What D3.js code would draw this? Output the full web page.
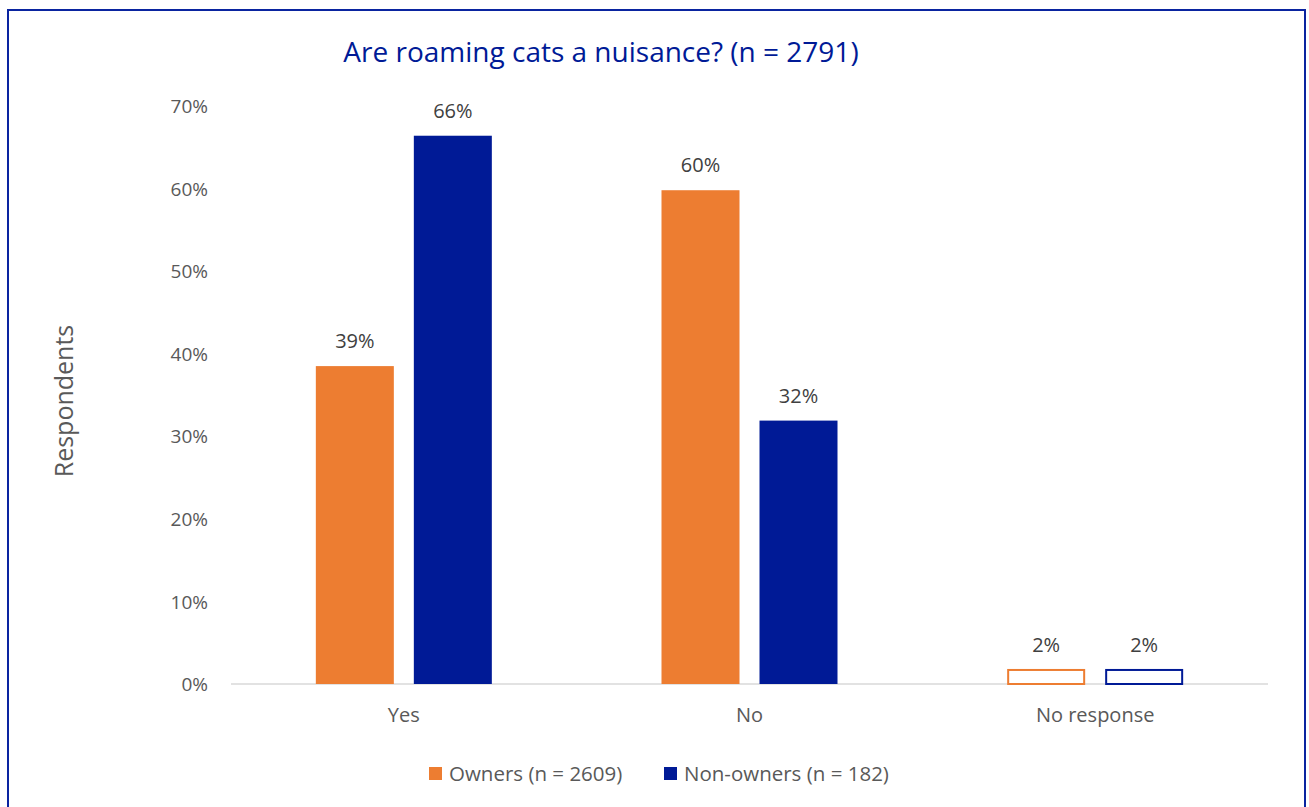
<!DOCTYPE html>
<html><head><meta charset="utf-8">
<script src="https://cdn.jsdelivr.net/npm/d3@7"></script>
<style>body{margin:0;background:#fff;} text{font-family:"Open Sans",sans-serif;}</style>
</head><body><svg id="c" width="1309" height="807"></svg>
<script>
const categories = ["Yes", "No", "No response"];
const seriesNames = ["Owners (n = 2609)", "Non-owners (n = 182)"];
const owners = [38.5, 59.8, 1.7];
const nonOwners = [66.4, 31.9, 1.7];
const ownersLabels = ["39%", "60%", "2%"];
const nonOwnersLabels = ["66%", "32%", "2%"];
const yTicks = [0, 10, 20, 30, 40, 50, 60, 70];
const colors = ["#ED7D31", "#001A96"];

const svg = d3.select("#c");
svg.append("rect").attr("x", 8).attr("y", 10).attr("width", 1297).attr("height", 810)
  .attr("fill", "none").attr("stroke", "#0A24A0").attr("stroke-width", 2);

const x0 = d3.scaleBand().domain(categories).range([231, 1268]).paddingInner(0).paddingOuter(0);
const y = d3.scaleLinear().domain([0, 70]).range([684, 106]);
const barW = 78, gap = 20;

const yAxis = d3.axisLeft(y).tickValues(yTicks).tickFormat(d => d + "%").tickSize(0).tickPadding(0);
const ga = svg.append("g").attr("transform", "translate(208,0)").call(yAxis);
ga.select(".domain").remove();
ga.selectAll("text").attr("font-size", 19).attr("fill", "#595959").attr("dy", "0.35em");

svg.append("line").attr("x1", 231).attr("x2", 1268).attr("y1", y(0)).attr("y2", y(0))
  .attr("stroke", "#D9D9D9").attr("stroke-width", 1.5);

const data = categories.map((c, i) => ({c, vals: [owners[i], nonOwners[i]], labs: [ownersLabels[i], nonOwnersLabels[i]]}));
data.forEach((d, i) => {
  const cx = x0(d.c) + x0.bandwidth() / 2;
  d.vals.forEach((v, j) => {
    const bx = j === 0 ? cx - gap / 2 - barW : cx + gap / 2;
    const hollow = d.c === "No response";
    svg.append("rect").attr("x", hollow ? bx + 1 : bx).attr("y", y(v))
      .attr("width", hollow ? barW - 2 : barW).attr("height", y(0) - y(v))
      .attr("fill", hollow ? "#fff" : colors[j])
      .attr("stroke", hollow ? colors[j] : "none").attr("stroke-width", 2);
    svg.append("text").attr("x", bx + barW / 2).attr("y", y(v) - 18)
      .attr("text-anchor", "middle").attr("font-size", 20).attr("fill", "#404040").text(d.labs[j]);
  });
  svg.append("text").attr("x", cx).attr("y", 722).attr("text-anchor", "middle")
    .attr("font-size", 20).attr("fill", "#595959").text(d.c);
});

svg.append("text").attr("x", 601).attr("y", 62).attr("text-anchor", "middle")
  .attr("font-size", 28).attr("fill", "#001A96").text("Are roaming cats a nuisance? (n = 2791)");

svg.append("text").attr("transform", "translate(73,401) rotate(-90)").attr("text-anchor", "middle")
  .attr("font-size", 25).attr("fill", "#595959").text("Respondents");

const legX = [429, 664];
seriesNames.forEach((s, j) => {
  svg.append("rect").attr("x", legX[j]).attr("y", 767).attr("width", 13).attr("height", 13).attr("fill", colors[j]);
  svg.append("text").attr("x", legX[j] + 20).attr("y", 781).attr("font-size", 20.5).attr("fill", "#595959").text(s);
});
</script></body></html>
